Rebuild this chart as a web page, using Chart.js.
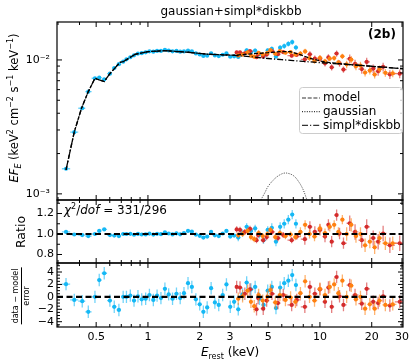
<!DOCTYPE html>
<html>
<head>
<meta charset="utf-8">
<script src="https://cdn.jsdelivr.net/npm/chart.js@4.4.0/dist/chart.umd.min.js"></script>
<style>
body{margin:0;background:#fff;font-family:"DejaVu Sans",sans-serif;}
#wrap{position:relative;width:415px;height:363px;overflow:hidden;background:#fff;}
#wrap canvas{position:absolute;left:0;top:0;}
.txt{position:absolute;white-space:nowrap;color:#000;line-height:1;}
.rot{transform:translate(-50%,-50%) rotate(-90deg);}
.frac{display:inline-block;text-align:center;font-size:8px;}
.frac .num{border-bottom:0.8px solid #000;padding:0 1px 1px 1px;}
.frac .den{padding-top:1px;}
</style>
</head>
<body>
<div id="wrap">
<canvas id="mainChart" width="415" height="363"></canvas>
<canvas id="ratioChart" width="415" height="363"></canvas>
<canvas id="residChart" width="415" height="363"></canvas>

<div class="txt" style="left:131px;width:200px;top:5px;text-align:center;font-size:12px;">gaussian+simpl*diskbb</div>
<div class="txt" style="left:368px;top:28px;font-size:12px;font-weight:bold;">(2b)</div>
<div class="txt" style="left:64px;top:203px;font-size:12px;"><i>χ</i><sup style="font-size:8px;">2</sup>/<i>dof</i> = 331/296</div>
<div class="txt" style="left:170px;width:120px;top:346px;text-align:center;font-size:12px;"><i>E</i><sub style="font-size:8px;">rest</sub> (keV)</div>
<div class="txt rot" style="left:15px;top:108px;font-size:11.5px;"><i>EF<sub style="font-size:8px;">E</sub></i> (keV<sup style="font-size:8px;">2</sup> cm<sup style="font-size:8px;">−2</sup> s<sup style="font-size:8px;">−1</sup> keV<sup style="font-size:8px;">−1</sup>)</div>
<div class="txt rot" style="left:21px;top:232px;font-size:12.5px;">Ratio</div>
<div class="txt rot" style="left:22px;top:296px;"><span class="frac"><div class="num">data − model</div><div class="den">error</div></span></div>
</div>

<script>
// axis ranges and ticks
const X_MIN = 0.296, X_MAX = 30.4;
const xTickLabels = [0.5, 1, 2, 3, 5, 10, 20, 30];
const xMinorTicks = [0.3, 0.4, 0.6, 0.7, 0.8, 0.9, 4, 6, 7, 8, 9];
const fluxTicks = [0.001, 0.01];
const fluxMinorTicks = [0.002, 0.003, 0.004, 0.005, 0.006, 0.007, 0.008, 0.009];
const ratioTicks = [0.8, 1.0, 1.2];
const ratioMinorTicks = [0.9, 1.1, 1.3];
const residTicks = [-4, -2, 0, 2, 4];
const residMinorTicks = [-4.5, -3.5, -3, -2.5, -1.5, -1, -0.5, 0.5, 1, 1.5, 2.5, 3, 3.5, 4.5, 5];

// pn (cyan)
const pnE = [0.334,0.373,0.415,0.45,0.492,0.521,0.557,0.601,0.637,0.678,0.718,
  0.75,0.79,0.83,0.875,0.92,0.97,1.02,1.075,1.13,1.19,1.255,1.32,1.39,1.465,1.54,1.62,1.71,1.80,1.90,2.0,2.1,2.21,2.33,2.45,2.58,2.72,2.86,3.01,3.17,
  3.35,3.55,3.75,3.97,4.2,4.45,4.7,4.97,5.25,5.55,5.87,6.2,6.55,6.9,7.25];
const pnFlux = [0.00154,0.00289,0.00436,0.0058,0.0073,0.00738,0.00715,0.0079,0.0087,0.0093,0.0097,
  0.0101,0.01047,0.01082,0.01116,0.01124,0.0114,0.0116,0.01153,0.01167,0.01168,0.01192,0.01176,0.0116,0.01168,0.01152,0.01158,0.01175,0.0116,0.01118,0.01098,0.01071,0.01076,0.01122,0.01081,0.01069,0.01093,0.01118,0.01056,0.01064,
  0.01053,0.01108,0.0118,0.01142,0.01175,0.01108,0.01058,0.01177,0.01208,0.01061,0.01234,0.0127,0.01317,0.0136,0.01238];
const pnRatio = [1.02,0.995,0.99,0.98,1.0,1.03,1.045,0.99,0.985,0.98,1.0,
  1.0,1.002,0.993,1.001,0.995,0.996,1.004,0.994,1.002,0.998,1.016,1.005,0.996,1.007,0.997,1.009,1.03,1.024,0.994,0.982,0.965,0.975,1.02,0.987,0.98,1.005,1.03,0.975,0.985,
  0.965,1.01,1.07,1.03,1.055,0.99,0.94,1.04,1.06,0.925,1.07,1.10,1.14,1.19,1.10];
const pnResid = [2.05,-0.5,-0.7,-2.4,0,2.7,3.8,-0.6,-1.6,-2.1,0,
  0,0.2,-0.6,0.1,-0.4,-0.3,0.3,-0.5,0.2,-0.2,1.3,0.4,-0.3,0.5,-0.2,0.6,2.2,1.6,-0.4,-1.2,-2.4,-1.7,1.4,-0.9,-1.3,0.3,2.0,-1.6,-0.8,
  -2.0,0.4,2.3,1.2,1.6,-0.3,-1.3,1.0,1.6,-1.8,1.5,2.2,2.6,3.5,1.9];
const pnSig = [0.012,0.012,0.012,0.012,0.012,0.012,0.012,0.012,0.012,0.012,0.012,
  0.012,0.012,0.012,0.012,0.012,0.012,0.012,0.012,0.012,0.012,0.012,0.012,0.012,0.012,0.014,0.014,0.014,0.014,0.014,0.014,0.014,0.014,0.014,0.014,0.014,0.014,0.014,0.014,0.014,
  0.035,0.035,0.035,0.035,0.035,0.035,0.035,0.035,0.045,0.045,0.045,0.045,0.045,0.045,0.045];

// FPMA (red)
const fpmaE = [3.28,3.43,3.66,3.92,4.28,4.37,4.68,4.90,5.26,5.70,6.12,6.85,7.33,8.17,8.74,9.34,10.0,10.7,11.2,11.7,12.5,13.0,13.7,14.9,16.0,17.5,18.7,20.4,21.8,23.3,25.5,29.1];
const fpmaFlux = [0.01137,0.01137,0.01122,0.01163,0.01049,0.01106,0.01057,0.01096,0.01163,0.01104,0.01143,0.01076,0.01092,0.01011,0.01102,0.01023,0.01022,0.00944,0.01045,0.00881,0.01117,0.00943,0.00848,0.0102,0.00934,0.00854,0.00966,0.0086,0.00823,0.00888,0.0078,0.0079];
const fpmaRatio = [1.045,1.04,1.02,1.05,0.94,0.99,0.94,0.97,1.02,0.96,0.99,0.94,0.975,0.95,1.07,1.02,1.04,0.975,1.09,0.925,1.185,1.005,0.91,1.105,1.02,0.94,1.07,0.96,0.925,1.005,0.89,0.91];
const fpmaResid = [1.6,1.5,0.5,1.2,-2.0,-0.2,-1.9,-0.6,0.5,-1.0,0.3,-1.3,-0.5,-1.6,1.6,0.5,1.2,-0.8,1.5,-1.6,3.2,0.1,-1.3,1.9,0.3,-1.1,1.3,-0.8,-1.0,0.1,-1.4,-0.8];
const fpmaSig = [0.03,0.03,0.03,0.03,0.03,0.03,0.03,0.03,0.03,0.03,0.03,0.03,0.03,
  0.055,0.055,0.055,0.055,0.055,0.055,0.055,0.055,0.055,0.055,
  0.075,0.075,0.075,0.075,0.075,0.075,0.075,0.075,0.075];

// FPMB (orange)
const fpmbE = [3.35,3.55,3.80,3.97,4.15,4.40,4.65,4.95,5.15,5.50,5.85,6.30,6.75,7.2,7.7,8.2,8.7,9.3,10.0,10.7,11.4,12.1,12.8,13.5,14.3,15.2,16.2,17.2,18.3,19.5,20.8,22.2,24.0,26.5];
const fpmbFlux = [0.0108,0.01097,0.01137,0.01076,0.01057,0.01129,0.01101,0.01132,0.01182,0.01112,0.01165,0.01132,0.01142,0.01096,0.01115,0.01158,0.0103,0.0098,0.01037,0.00978,0.01023,0.01032,0.00959,0.01065,0.00928,0.01004,0.00897,0.00909,0.00805,0.00832,0.00778,0.00852,0.00802,0.00794];
const fpmbRatio = [0.99,1.0,1.03,0.97,0.95,1.01,0.98,1.0,1.04,0.97,1.01,0.98,0.995,0.97,1.02,1.09,1.0,0.975,1.055,1.01,1.07,1.09,1.02,1.14,1.0,1.09,0.98,1.0,0.89,0.925,0.87,0.96,0.91,0.91];
const fpmbResid = [-0.3,0.1,1.0,-0.8,-1.5,0.3,-0.6,0,1.1,-0.9,0.3,-0.5,-0.1,-0.8,0.6,2.5,0,-0.6,1.3,0.3,1.6,2.0,0.6,2.6,0,1.8,-0.4,0,-1.9,-1.2,-1.9,-0.6,-1.3,-1.2];
const fpmbSig = [0.03,0.03,0.03,0.03,0.03,0.03,0.03,0.03,0.03,0.03,0.03,0.03,0.03,0.03,
  0.045,0.045,0.045,0.045,0.045,0.045,0.045,0.045,0.045,0.045,
  0.065,0.065,0.065,0.065,0.065,0.065,0.065,0.065,0.065,0.065];

// model curves
const modelE = [0.334,0.373,0.412,0.45,0.492,0.521,0.557,0.601,0.688,0.718,0.84,1.0,1.255,1.71,2.23,3.2,4,5,5.85,6.7,7.6,8.8,10,11.4,15,20,30.4];
const modelFlux = [0.00151,0.0029,0.0044,0.0058,0.0073,0.0071,0.0069,0.0079,0.0096,0.0097,0.0110,0.01153,0.01173,0.01141,0.01103,0.01085,0.0111,0.01133,0.01155,0.01153,0.0110,0.01026,0.00983,0.00955,0.00923,0.00897,0.0086];
const contE = [0.334,0.373,0.412,0.45,0.492,0.521,0.557,0.601,0.688,0.718,0.84,1.0,1.255,1.71,2.23,3.2,4,5,6,7,8,10,12,15,20,30.4];
const contFlux = [0.00151,0.0029,0.0044,0.0058,0.0073,0.0071,0.0069,0.0079,0.0096,0.0097,0.0110,0.01153,0.01173,0.01141,0.01103,0.0108,0.01055,0.01025,0.01005,0.00988,0.00975,0.00955,0.0094,0.00922,0.00897,0.0086];
const gaussE = [4.4,4.8,5.0,5.5,6.0,6.4,7.0,7.5,8.0,8.5];
const gaussFlux = [0.00084,0.00103,0.00114,0.00131,0.00141,0.00143,0.00137,0.00124,0.00107,0.00086];

const legendLabels = ["model", "gaussian", "simpl*diskbb"];

const CYAN = "#14b8f5", RED = "#d42b2b", ORANGE = "#ff8010";
const FONT = "DejaVu Sans";

// bins are contiguous, so x bars reach halfway (in log) to the neighbours
function binEdges(E){
    return E.map((e,i)=>{
        const lo = i>0 ? Math.sqrt(E[i-1]*e) : e*Math.sqrt(e/E[i+1]);
        const hi = i<E.length-1 ? Math.sqrt(e*E[i+1]) : e*Math.sqrt(e/E[i-1]);
        return [lo,hi];
    });
}

function makePoints(E, vals, errs){
    const edges = binEdges(E);
    return E.map((e,i)=>({x:e, y:vals[i], xlo:edges[i][0], xhi:edges[i][1], ylo:vals[i]-errs[i], yhi:vals[i]+errs[i]}));
}

function curve(E, vals){
    return E.map((e,i)=>({x:e, y:vals[i]}));
}

const errorBars = {
    id:"errorBars",
    beforeDatasetDraw(chart, args){
        const ds = chart.data.datasets[args.index];
        if(!ds.errColor) return;
        const {ctx, chartArea:a, scales:{x, y}} = chart;
        ctx.save();
        ctx.beginPath();
        ctx.rect(a.left, a.top, a.right-a.left, a.bottom-a.top);
        ctx.clip();
        ctx.strokeStyle = ds.errColor;
        ctx.lineWidth = 1.3;
        ctx.beginPath();
        ds.data.forEach(p=>{
            const px = x.getPixelForValue(p.x), py = y.getPixelForValue(p.y);
            ctx.moveTo(x.getPixelForValue(p.xlo), py);
            ctx.lineTo(x.getPixelForValue(p.xhi), py);
            ctx.moveTo(px, y.getPixelForValue(p.ylo));
            ctx.lineTo(px, y.getPixelForValue(p.yhi));
        });
        ctx.stroke();
        ctx.restore();
    }
};

// frame with inward ticks on all four sides
function frameTicks(yMajor, yMinor){
    return {
        id:"frameTicks",
        afterDraw(chart){
            const {ctx, chartArea:a, scales:{x, y}} = chart;
            ctx.save();
            ctx.strokeStyle = "#000";
            ctx.lineWidth = 1;
            ctx.beginPath();
            const xt = (vals, len)=>vals.forEach(v=>{
                const p = x.getPixelForValue(v);
                if(p < a.left-0.5 || p > a.right+0.5) return;
                ctx.moveTo(p, a.bottom); ctx.lineTo(p, a.bottom-len);
                ctx.moveTo(p, a.top); ctx.lineTo(p, a.top+len);
            });
            const yt = (vals, len)=>vals.forEach(v=>{
                const p = y.getPixelForValue(v);
                if(p < a.top-0.5 || p > a.bottom+0.5) return;
                ctx.moveTo(a.left, p); ctx.lineTo(a.left+len, p);
                ctx.moveTo(a.right, p); ctx.lineTo(a.right-len, p);
            });
            xt(xTickLabels, 5);
            xt(xMinorTicks, 3);
            yt(yMajor, 5);
            yt(yMinor, 3);
            ctx.stroke();
            ctx.lineWidth = 1.2;
            ctx.strokeRect(a.left, a.top, a.right-a.left, a.bottom-a.top);
            ctx.restore();
        }
    };
}

const legendDash = [[4,1.7],[1,1.4],[6,2,1.2,2]];
const legendBox = {
    id:"legendBox",
    afterDraw(chart){
        const {ctx, chartArea:a} = chart;
        const x0 = a.right-104, y0 = a.top+65, w = 103, h = 46;
        ctx.save();
        ctx.fillStyle = "rgba(255,255,255,0.8)";
        ctx.strokeStyle = "#cccccc";
        ctx.lineWidth = 1;
        ctx.beginPath();
        ctx.roundRect(x0+0.5, y0+0.5, w, h, 3);
        ctx.fill();
        ctx.stroke();
        ctx.font = "12px \"" + FONT + "\"";
        ctx.textBaseline = "middle";
        legendLabels.forEach((lab,i)=>{
            const yy = y0 + 11 + i*13.7;
            ctx.setLineDash(legendDash[i]);
            ctx.strokeStyle = "#333";
            ctx.lineWidth = 1.2;
            ctx.beginPath();
            ctx.moveTo(x0+3, yy);
            ctx.lineTo(x0+21, yy);
            ctx.stroke();
            ctx.setLineDash([]);
            ctx.fillStyle = "#000";
            ctx.fillText(lab, x0+24, yy);
        });
        ctx.restore();
    }
};

function xScale(show){
    return {
        type:"logarithmic", min:X_MIN, max:X_MAX, display:show,
        grid:{display:false, drawTicks:false}, border:{display:false},
        ticks:{font:{family:FONT, size:11}, color:"#000", padding:4, autoSkip:false, maxRotation:0, callback:v=>String(v)},
        afterBuildTicks:s=>{ s.ticks = xTickLabels.map(v=>({value:v})); },
        afterFit:s=>{ s.height = show ? 36 : 0; s.paddingLeft = 0; s.paddingRight = 0; }
    };
}

function yScale(type, min, max, ticks, fmt, pad){
    return {
        type:type, min:min, max:max, position:"left",
        grid:{display:false, drawTicks:false}, border:{display:false},
        ticks:{font:{family:FONT, size:11}, color:"#000", padding:pad, autoSkip:false, callback:fmt},
        afterBuildTicks:s=>{ s.ticks = ticks.map(v=>({value:v})); },
        afterFit:s=>{ s.width = 57; s.paddingTop = 0; s.paddingBottom = 0; }
    };
}

function dataSets(key){
    const sets = [
        {E:pnE, v:{flux:pnFlux, ratio:pnRatio, resid:pnResid}, sig:pnSig, flux:pnFlux, c:CYAN, e:"rgba(20,184,245,0.6)", order:3},
        {E:fpmaE, v:{flux:fpmaFlux, ratio:fpmaRatio, resid:fpmaResid}, sig:fpmaSig, flux:fpmaFlux, c:RED, e:"rgba(212,43,43,0.6)", order:2},
        {E:fpmbE, v:{flux:fpmbFlux, ratio:fpmbRatio, resid:fpmbResid}, sig:fpmbSig, flux:fpmbFlux, c:ORANGE, e:"rgba(255,128,16,0.6)", order:1}
    ];
    return sets.map(s=>{
        let errs;
        if(key === "flux") errs = s.flux.map((f,i)=>f*s.sig[i]);
        else if(key === "ratio") errs = s.sig;
        else errs = s.E.map(()=>1);
        return {
            data:makePoints(s.E, s.v[key], errs),
            pointRadius:2.1, pointBorderWidth:0, pointBackgroundColor:s.c,
            showLine:false, errColor:s.e, order:s.order
        };
    });
}

function refLine(yv){
    return {
        data:[{x:X_MIN, y:yv},{x:X_MAX, y:yv}],
        showLine:true, borderColor:"#000", borderWidth:2.2, borderDash:[6,3.5],
        pointRadius:0, order:0
    };
}

const baseOpts = {responsive:false, animation:false, events:[], plugins:{legend:{display:false}, tooltip:{enabled:false}}};

new Chart(document.getElementById("mainChart"), {
    type:"scatter",
    data:{datasets:[
        {data:curve(modelE, modelFlux), showLine:true, borderColor:"#000", borderWidth:1.3, borderDash:[4,1.7], pointRadius:0, order:0},
        {data:curve(contE, contFlux), showLine:true, borderColor:"#000", borderWidth:1.3, borderDash:[6,2,1.2,2], pointRadius:0, order:0},
        {data:curve(gaussE, gaussFlux), showLine:true, borderColor:"#333", borderWidth:1, borderDash:[1,1.4], tension:0.35, pointRadius:0, order:0},
        ...dataSets("flux")
    ]},
    options:{...baseOpts,
        layout:{padding:{left:0, top:22, right:12, bottom:163}},
        scales:{
            x:xScale(false),
            y:yScale("logarithmic", 0.0009, 0.0192, fluxTicks, v=>v < 0.005 ? "10⁻³" : "10⁻²", 7)
        }
    },
    plugins:[errorBars, frameTicks(fluxTicks, fluxMinorTicks), legendBox]
});

new Chart(document.getElementById("ratioChart"), {
    type:"scatter",
    data:{datasets:[refLine(1), ...dataSets("ratio")]},
    options:{...baseOpts,
        layout:{padding:{left:0, top:200, right:12, bottom:100}},
        scales:{
            x:xScale(false),
            y:yScale("linear", 0.717, 1.332, ratioTicks, v=>v.toFixed(1), 3)
        }
    },
    plugins:[errorBars, frameTicks(ratioTicks, ratioMinorTicks)]
});

new Chart(document.getElementById("residChart"), {
    type:"scatter",
    data:{datasets:[refLine(0), ...dataSets("resid")]},
    options:{...baseOpts,
        layout:{padding:{left:0, top:263, right:12, bottom:0}},
        scales:{
            x:xScale(true),
            y:yScale("linear", -4.85, 5.45, residTicks, v=>v < 0 ? "−" + Math.abs(v) : String(v), 3)
        }
    },
    plugins:[errorBars, frameTicks(residTicks, residMinorTicks)]
});
</script>
</body>
</html>
